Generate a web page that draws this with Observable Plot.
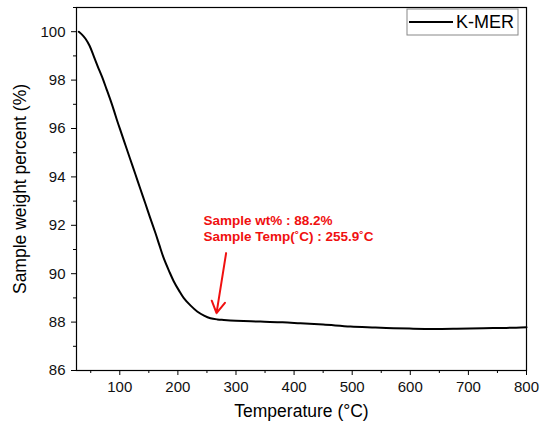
<!DOCTYPE html>
<html><head><meta charset="utf-8">
<script src="https://cdn.jsdelivr.net/npm/d3@7"></script>
<script src="https://cdn.jsdelivr.net/npm/@observablehq/plot@0.6"></script>
<style>
body{margin:0;background:#fff}
#chart{width:544px;height:426px;position:relative}
svg{font-family:Arial,"Liberation Sans",sans-serif}
</style>
</head><body><div id="chart"></div>
<script>
// Data
const temperature = [29.5, 35, 41, 48, 55.3, 62, 69.7, 77, 84, 90, 95.5, 102, 109.8, 118, 127, 135, 144.3, 152, 161.5, 168, 175.8, 185, 193, 202, 210.2, 222, 233.2, 245, 256, 268, 279, 300, 342, 380, 411, 450, 497, 540, 571, 605, 640, 680, 726, 765, 800];
const weight =      [100.0, 99.88, 99.71, 99.42, 98.98, 98.57, 98.12, 97.64, 97.17, 96.74, 96.32, 95.86, 95.31, 94.73, 94.1, 93.53, 92.88, 92.33, 91.67, 91.19, 90.63, 90.1, 89.68, 89.3, 88.99, 88.68, 88.44, 88.27, 88.16, 88.11, 88.09, 88.06, 88.02, 87.99, 87.95, 87.9, 87.82, 87.78, 87.75, 87.73, 87.72, 87.73, 87.75, 87.76, 87.79];
const xMajorTicks = [100, 200, 300, 400, 500, 600, 700, 800];
const xMinorTicks = [50, 150, 250, 350, 450, 550, 650, 750];
const yMajorTicks = [86, 88, 90, 92, 94, 96, 98, 100];
const yMinorTicks = [87, 89, 91, 93, 95, 97, 99, 101];
const seriesName = "K-MER";
const xLabel = "Temperature (°C)";
const yLabel = "Sample weight percent (%)";
const annotationLines = ["Sample wt% : 88.2%", "Sample Temp(˚C) : 255.9˚C"];
const annotationT = [244, 244];
const annotationW = [92.21, 91.55];
const arrowStart = [283, 90.85];
const arrowEnd = [266.5, 88.37];

const curve = temperature.map((t, i) => ({t, w: weight[i]}));
const notes = annotationLines.map((label, i) => ({label, t: annotationT[i], w: annotationW[i]}));
const arrows = [{x1: arrowStart[0], y1: arrowStart[1], x2: arrowEnd[0], y2: arrowEnd[1]}];

const W = 544, H = 426;
const chart = Plot.plot({
  width: W, height: H,
  marginLeft: 76, marginRight: 18, marginTop: 7, marginBottom: 56,
  style: {fontFamily: 'Arial, "Liberation Sans", sans-serif', color: "#111", background: "#fff"},
  x: {domain: [25.5, 800]},
  y: {domain: [86, 101]},
  marks: [
    Plot.axisX({ticks: xMajorTicks, tickSize: 5, tickPadding: 6, fontSize: 15, label: null, stroke: "#000"}),
    Plot.axisX({ticks: xMinorTicks, tickSize: 3, text: null, label: null, stroke: "#000"}),
    Plot.axisY({ticks: yMajorTicks, tickSize: 5, tickPadding: 6, fontSize: 15, label: null, stroke: "#000"}),
    Plot.axisY({ticks: yMinorTicks, tickSize: 3, text: null, label: null, stroke: "#000"}),
    Plot.frame({stroke: "#000", strokeWidth: 1.2}),
    Plot.line(curve, {x: "t", y: "w", stroke: "#000", strokeWidth: 2, curve: "catmull-rom"}),
    Plot.text(notes, {x: "t", y: "w", text: "label", textAnchor: "start", fill: "#f01010", fontWeight: "bold", fontSize: 13.5}),
    Plot.arrow(arrows, {x1: "x1", y1: "y1", x2: "x2", y2: "y2", stroke: "#f01010", strokeWidth: 2, headLength: 10}),
    Plot.text([xLabel], {frameAnchor: "bottom", lineAnchor: "middle", dy: 41, fontSize: 17.5, fill: "#000"}),
    Plot.text([yLabel], {frameAnchor: "left", textAnchor: "middle", lineAnchor: "middle", dx: -56, rotate: -90, fontSize: 17.5, fill: "#000"})
  ]
});

// Legend box (top-right, inside the frame)
const svg = d3.select(chart);
const g = svg.append("g").attr("text-anchor", "start");
g.append("rect").attr("x", 407).attr("y", 9).attr("width", 111).attr("height", 26)
  .attr("fill", "#fff").attr("stroke", "#888").attr("stroke-width", 1);
g.append("line").attr("x1", 409).attr("x2", 453).attr("y1", 22).attr("y2", 22)
  .attr("stroke", "#000").attr("stroke-width", 2);
g.append("text").attr("x", 456).attr("y", 22).attr("dy", "0.35em")
  .attr("font-size", 18).attr("fill", "#000").text(seriesName);

document.getElementById("chart").appendChild(chart);
</script>
</body></html>
